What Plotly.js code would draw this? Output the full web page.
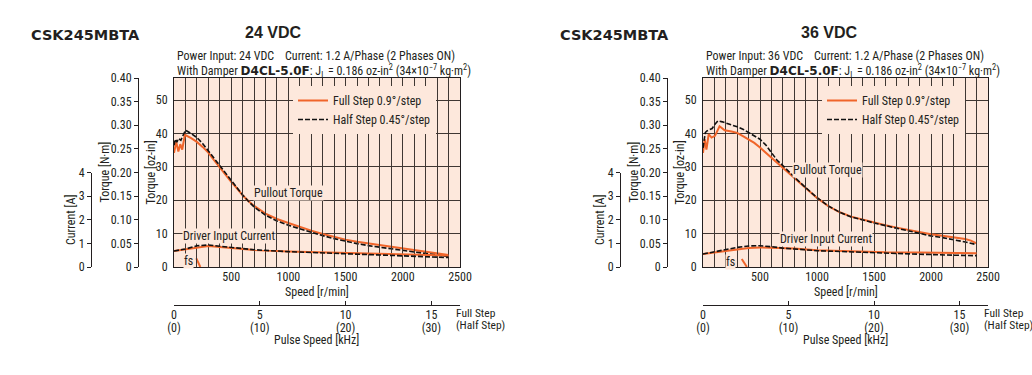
<!DOCTYPE html>
<html><head><meta charset="utf-8">
<script src="https://cdn.plot.ly/plotly-3.0.1.min.js"></script>
<style>html,body{margin:0;padding:0;background:#fff}#chart{width:1032px;height:375px}</style>
</head><body><div id="chart"></div>
<script>
// ---------------- data ----------------
// 24 VDC – pullout torque [oz-in] vs speed [r/min]
const rpmFull24 = [0, 20, 38, 55, 72, 95, 150, 200, 250, 300, 350, 400, 450, 500, 550, 600, 650, 700, 800, 900, 1000, 1100, 1200, 1300, 1400, 1500, 1600, 1700, 1800, 1900, 2000, 2100, 2200, 2300, 2400];
const torqueFull24 = [34.2, 37.5, 34.6, 36.8, 35.2, 39.6, 38.6, 37.5, 36.0, 34.3, 32.0, 29.8, 27.6, 25.5, 23.6, 21.5, 19.8, 18.3, 16.0, 14.4, 13.2, 12.0, 10.9, 9.9, 9.0, 8.2, 7.6, 7.1, 6.6, 6.1, 5.6, 5.2, 4.7, 4.1, 3.6];
const rpmHalf24 = [0, 12, 25, 40, 60, 80, 100, 150, 200, 250, 300, 350, 400, 450, 500, 550, 600, 650, 700, 800, 900, 1000, 1100, 1200, 1300, 1400, 1500, 1600, 1700, 1800, 1900, 2000, 2100, 2200, 2300, 2400];
const torqueHalf24 = [36.5, 38.3, 37.4, 38.5, 38.0, 39.8, 41.0, 40.0, 38.8, 37.0, 34.8, 32.5, 30.3, 28.2, 26.0, 23.9, 21.6, 19.7, 18.0, 15.5, 13.8, 12.5, 11.4, 10.4, 9.4, 8.5, 7.7, 7.0, 6.4, 5.9, 5.4, 4.9, 4.5, 4.0, 3.5, 3.1];
// 24 VDC – driver input current [A]
const rpmCurrent24 = [0, 100, 200, 250, 300, 400, 500, 700, 1000, 1300, 1600, 1900, 2200, 2400];
const currentFull24 = [0.68, 0.75, 0.85, 0.88, 0.89, 0.85, 0.80, 0.72, 0.66, 0.62, 0.59, 0.56, 0.52, 0.49];
const currentHalf24 = [0.68, 0.76, 0.90, 0.93, 0.93, 0.88, 0.83, 0.73, 0.65, 0.60, 0.55, 0.49, 0.43, 0.40];
// 24 VDC – fs (max. starting frequency) marker
const rpmFs24 = [195, 230];
const torqueFs24 = [2.6, 0];

// 36 VDC – pullout torque [oz-in]
const rpmFull36 = [0, 15, 30, 50, 75, 105, 145, 190, 250, 300, 350, 400, 450, 500, 550, 600, 650, 700, 750, 800, 900, 1000, 1100, 1200, 1300, 1400, 1500, 1600, 1700, 1800, 1900, 2000, 2100, 2200, 2300, 2350, 2400];
const torqueFull36 = [34.2, 38.3, 35.2, 39.8, 38.8, 39.3, 42.2, 41.0, 40.6, 40.2, 39.2, 38.3, 37.2, 35.8, 34.3, 32.8, 31.3, 29.8, 28.2, 26.7, 23.6, 20.7, 18.2, 16.4, 15.1, 14.2, 13.3, 12.5, 11.8, 11.1, 10.4, 9.8, 9.4, 9.0, 8.4, 7.9, 7.1];
const rpmHalf36 = [0, 10, 20, 35, 60, 80, 105, 130, 170, 200, 250, 300, 350, 400, 450, 500, 550, 600, 650, 700, 750, 800, 900, 1000, 1100, 1200, 1300, 1400, 1500, 1600, 1700, 1800, 1900, 2000, 2100, 2200, 2300, 2400];
const torqueHalf36 = [35.7, 38.0, 40.3, 40.8, 41.2, 41.5, 42.8, 43.8, 43.5, 43.2, 42.7, 42.0, 41.3, 40.3, 39.4, 38.3, 36.6, 34.3, 32.0, 30.4, 28.6, 27.0, 23.8, 20.8, 18.3, 16.4, 15.0, 14.0, 13.2, 12.4, 11.6, 10.8, 10.0, 9.3, 8.8, 8.2, 7.5, 6.7];
// 36 VDC – driver input current [A]
const rpmCurrentFull36 = [0, 200, 300, 400, 500, 600, 800, 1000, 1300, 1600, 1900, 2200, 2400];
const currentFull36 = [0.55, 0.68, 0.75, 0.80, 0.83, 0.82, 0.78, 0.71, 0.65, 0.62, 0.61, 0.60, 0.58];
const rpmCurrentHalf36 = [0, 200, 300, 400, 450, 500, 600, 700, 1000, 1300, 1600, 1900, 2200, 2400];
const currentHalf36 = [0.55, 0.75, 0.83, 0.89, 0.90, 0.90, 0.86, 0.80, 0.69, 0.63, 0.58, 0.54, 0.50, 0.48];
// 36 VDC – fs marker
const rpmFs36 = [340, 385];
const torqueFs36 = [2.4, 0];

// axis tick labels
const speedTicks = [500, 1000, 1500, 2000, 2500];
const ozTicks = [0, 10, 20, 30, 40, 50];
const nmTicks = [0, 0.05, 0.10, 0.15, 0.20, 0.25, 0.30, 0.35, 0.40];
const nmTickText = ['0', '0.05', '0.10', '0.15', '0.20', '0.25', '0.30', '0.35', '0.40'];
const ampTicks = [0, 1, 2, 3, 4];
const pulseFullTicks = [0, 5, 10, 15];
const pulseFullText = ['0', '5', '10', '15'];
const pulseHalfTicks = [0, 10, 20, 30];
const pulseHalfText = ['(0)', '(10)', '(20)', '(30)'];
const legendNames = ['Full Step 0.9°/step', 'Half Step 0.45°/step'];

// ---------------- styling ----------------
const ORANGE = '#f0652a', INK = '#231f20', GRID = '#3f3733', PEACH = '#fde8dc';
const NARROW = "'Roboto Condensed','Liberation Sans Narrow','DejaVu Sans Condensed',sans-serif";
const FS = 12;
const OZ_MAX = 0.40 * 141.612; // 0.40 N·m expressed in oz-in

function line(x, y, xa, ya, kind, name, legend, show) {
  return {
    x: x, y: y, xaxis: xa, yaxis: ya, type: 'scatter', mode: 'lines',
    name: name, legend: legend, showlegend: !!show, hoverinfo: 'skip',
    line: kind === 'full' ? {color: ORANGE, width: 2} : {color: '#111', width: 1.6, dash: '5px,2px'}
  };
}
// empty carrier so that an axis without its own series is still drawn
function axisCarrier(xa, ya) {
  return {x: [], y: [], xaxis: xa, yaxis: ya, type: 'scatter', mode: 'lines', showlegend: false, hoverinfo: 'skip'};
}

const data = [
  line(rpmFull24, torqueFull24, 'x', 'y', 'full', legendNames[0], 'legend', true),
  line(rpmHalf24, torqueHalf24, 'x', 'y', 'half', legendNames[1], 'legend', true),
  line(rpmFs24, torqueFs24, 'x', 'y', 'full', 'fs', 'legend', false),
  line(rpmCurrent24, currentFull24, 'x', 'y3', 'full', 'Current full', 'legend', false),
  line(rpmCurrent24, currentHalf24, 'x', 'y3', 'half', 'Current half', 'legend', false),
  line(rpmFull36, torqueFull36, 'x2', 'y4', 'full', legendNames[0], 'legend2', true),
  line(rpmHalf36, torqueHalf36, 'x2', 'y4', 'half', legendNames[1], 'legend2', true),
  line(rpmFs36, torqueFs36, 'x2', 'y4', 'full', 'fs', 'legend2', false),
  line(rpmCurrentFull36, currentFull36, 'x2', 'y6', 'full', 'Current full', 'legend2', false),
  line(rpmCurrentHalf36, currentHalf36, 'x2', 'y6', 'half', 'Current half', 'legend2', false),
  axisCarrier('x', 'y2'), axisCarrier('x3', 'y'), axisCarrier('x5', 'y'),
  axisCarrier('x2', 'y5'), axisCarrier('x4', 'y4'), axisCarrier('x6', 'y4')
];

// geometry (paper fractions of 1032 x 375)
const W = 1032, H = 375;
const px = v => v / W, py = v => (H - v) / H;
const Y_DOM = [py(267), py(78)];
const AMP_DOM = [py(267), py(172.5)];
const panels = [
  {x: 'x', y: 'y', nm: 'y2', amp: 'y3', pf: 'x3', ph: 'x5', left: 174, right: 460},
  {x: 'x2', y: 'y4', nm: 'y5', amp: 'y6', pf: 'x4', ph: 'x6', left: 703, right: 988}
];
const tf = {family: NARROW, size: FS, color: INK};
const sf = {family: NARROW, size: 11.5, color: INK};

const layout = {
  width: W, height: H,
  margin: {l: 0, r: 0, t: 0, b: 0},
  paper_bgcolor: '#ffffff', plot_bgcolor: 'rgba(0,0,0,0)',
  font: tf, showlegend: true,
  shapes: [], annotations: []
};
const nm = id => (id.length === 1 ? id + 'axis' : id[0] + 'axis' + id.slice(1));

panels.forEach((p, i) => {
  const dom = [px(p.left), px(p.right)];
  layout[nm(p.x)] = {
    domain: dom, anchor: p.y, range: [0, 2500], tickmode: 'array', tickvals: speedTicks,
    ticks: '', showgrid: true, gridcolor: GRID, gridwidth: 1,
    minor: {tickmode: 'linear', tick0: 0, dtick: 100, showgrid: true, gridcolor: GRID, gridwidth: 1, ticks: ''},
    showline: true, linecolor: INK, linewidth: 1, mirror: true, zeroline: false,
    tickfont: tf, ticklabelstandoff: -1
  };
  layout[nm(p.y)] = {
    domain: Y_DOM, anchor: p.x, range: [0, OZ_MAX], tickmode: 'array', tickvals: ozTicks,
    ticks: '', showgrid: true, gridcolor: GRID, gridwidth: 1,
    showline: true, linecolor: INK, linewidth: 1, mirror: true, zeroline: false,
    tickfont: tf, ticklabelstandoff: 3
  };
  layout[nm(p.nm)] = {
    overlaying: p.y, anchor: 'free', side: 'left', position: px(p.left - 36),
    range: [0, 0.40], tickmode: 'array', tickvals: nmTicks, ticktext: nmTickText,
    ticks: 'outside', ticklen: 4, tickcolor: INK, showgrid: false, zeroline: false,
    showline: true, linecolor: INK, linewidth: 1, tickfont: tf
  };
  layout[nm(p.amp)] = {
    domain: AMP_DOM, anchor: 'free', side: 'left', position: px(p.left - 83),
    range: [0, 4], tickmode: 'array', tickvals: ampTicks,
    ticks: 'outside', ticklen: 4, tickcolor: INK, showgrid: false, zeroline: false,
    showline: true, linecolor: INK, linewidth: 1, tickfont: tf
  };
  layout[nm(p.pf)] = {
    overlaying: p.x, anchor: 'free', side: 'bottom', position: py(305),
    range: [0, 2500 / 150], tickmode: 'array', tickvals: pulseFullTicks, ticktext: pulseFullText,
    ticks: 'inside', ticklen: 4, tickcolor: INK, showgrid: false, zeroline: false,
    showline: true, linecolor: INK, linewidth: 1, tickfont: tf, ticklabelstandoff: -1
  };
  layout[nm(p.ph)] = {
    overlaying: p.x, anchor: 'free', side: 'bottom', position: py(319),
    range: [0, 2500 / 75], tickmode: 'array', tickvals: pulseHalfTicks, ticktext: pulseHalfText,
    ticks: '', showgrid: false, zeroline: false, showline: false, tickfont: tf, ticklabelstandoff: 0
  };
  layout.shapes.push({type: 'rect', xref: p.x + ' domain', yref: p.y + ' domain',
    x0: 0, x1: 1, y0: 0, y1: 1, fillcolor: PEACH, line: {width: 0}, layer: 'below'});
  layout[i === 0 ? 'legend' : 'legend2'] = {
    x: px(p.left + 119), y: py(86), xanchor: 'left', yanchor: 'top',
    bgcolor: PEACH, borderwidth: 0, font: tf, tracegroupgap: 0, itemwidth: 30
  };
});

const volts = ['24 VDC', '36 VDC'];
const labelPos = [
  {pull: [1000, 22.3], cur: [480, 9.4], fs: [127, 1.9]},
  {pull: [1090, 29.2], cur: [1077, 8.3], fs: [245, 1.6]}
];
panels.forEach((p, i) => {
  const L = labelPos[i];
  const dataNote = (t, xy) => ({text: t, x: xy[0], y: xy[1], xref: p.x, yref: p.y, showarrow: false,
    bgcolor: PEACH, borderpad: 0, font: tf});
  layout.annotations.push(dataNote('Pullout Torque', L.pull));
  layout.annotations.push(dataNote('Driver Input Current', L.cur));
  layout.annotations.push(dataNote('fs', L.fs));
  const off = p.left - 174;
  const paperNote = (t, x, y, font, xanchor, angle) => ({text: t, x: px(x), y: py(y), xref: 'paper', yref: 'paper',
    xanchor: xanchor || 'left', yanchor: 'middle', showarrow: false, font: font, textangle: angle || 0});
  layout.annotations.push(paperNote('CSK245MBTA', 29 + off, 35,
    {family: "'DejaVu Sans', sans-serif", size: 14.5, color: INK, weight: 'bold'}));
  layout.annotations.push(paperNote(volts[i], 273 + off + (i ? 27 : 0), 33,
    {family: "'Liberation Sans', Arial, sans-serif", size: 16, color: INK, weight: 'bold'}, 'center'));
  layout.annotations.push(paperNote('Power Input: ' + volts[i] + '\u00a0\u00a0\u00a0\u00a0Current: 1.2 A/Phase (2 Phases ON)',
    p.left + 1, 56, tf));
  layout.annotations.push(paperNote('With Damper <span style="font-family:\'DejaVu Sans\';font-weight:bold;font-size:12px">D4CL-5.0F</span>: J<sub>L</sub> = 0.186 oz-in<sup>2</sup> (34×10<sup>−7</sup> kg·m<sup>2</sup>)',
    p.left + 1, 71, tf));
  layout.annotations.push(paperNote('Full Step', p.right - 6.5, 313, sf));
  layout.annotations.push(paperNote('(Half Step)', p.right - 6.5, 325, sf));
  // axis titles, placed where the reference draws them
  layout.annotations.push(paperNote('Torque [oz-in]', p.left - 24, 172.5, tf, 'center', -90));
  layout.annotations.push(paperNote('Torque [N·m]', p.left - 70, 172.5, tf, 'center', -90));
  layout.annotations.push(paperNote('Current [A]', p.left - 103, 220, tf, 'center', -90));
  layout.annotations.push(paperNote('Speed [r/min]', (p.left + p.right) / 2, 292, tf, 'center'));
  layout.annotations.push(paperNote('Pulse Speed [kHz]', (p.left + p.right) / 2 - 0.5, 339.5, tf, 'center'));
});

Plotly.newPlot('chart', data, layout, {staticPlot: true, displayModeBar: false});
</script>
</body></html>
